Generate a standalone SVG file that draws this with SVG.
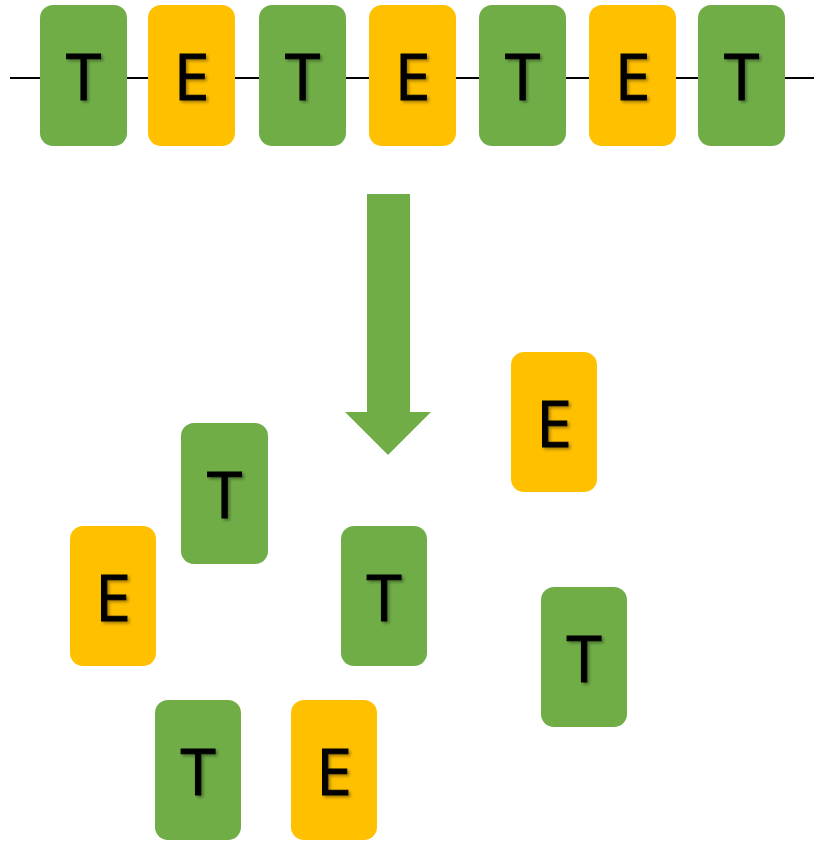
<svg xmlns="http://www.w3.org/2000/svg" width="814" height="841" viewBox="0 0 814 841">
<style>
.t{fill:#70AD47}
.e{fill:#FFC000}
text{font-family:"Open Sans","Noto Sans","Liberation Sans",sans-serif;font-size:64px;fill:#000;stroke:#000;stroke-width:1;text-anchor:middle;filter:url(#sh)}
</style>
<defs>
<filter id="sh" x="-20%" y="-20%" width="150%" height="150%">
<feDropShadow dx="2" dy="2" stdDeviation="1.8" flood-color="#000" flood-opacity="0.35"/>
</filter>
</defs>
<g id="connectors">
<line x1="10" y1="78" x2="814" y2="78" stroke="#000" stroke-width="2"/>
<polygon id="arrow" points="367,194 410,194 410,412 431,412 388,455 345,412 367,412" fill="#70AD47"/>
</g>
<g id="n1"><rect class="t" x="40" y="5" width="87" height="141" rx="13"/><text x="83.5" y="100">T</text></g>
<g id="n2"><rect class="e" x="148" y="5" width="87" height="141" rx="13"/><text x="191.5" y="100">E</text></g>
<g id="n3"><rect class="t" x="259" y="5" width="87" height="141" rx="13"/><text x="302.5" y="100">T</text></g>
<g id="n4"><rect class="e" x="369" y="5" width="87" height="141" rx="13"/><text x="412.5" y="100">E</text></g>
<g id="n5"><rect class="t" x="479" y="5" width="87" height="141" rx="13"/><text x="522.5" y="100">T</text></g>
<g id="n6"><rect class="e" x="589" y="5" width="87" height="141" rx="13"/><text x="632.5" y="100">E</text></g>
<g id="n7"><rect class="t" x="698" y="5" width="87" height="141" rx="13"/><text x="741.5" y="100">T</text></g>
<g id="b1"><rect class="e" x="511" y="352" width="86" height="140" rx="13"/><text x="554" y="447">E</text></g>
<g id="b2"><rect class="t" x="181" y="423" width="87" height="141" rx="13"/><text x="224.5" y="518">T</text></g>
<g id="b3"><rect class="e" x="70" y="526" width="86" height="140" rx="13"/><text x="113" y="621">E</text></g>
<g id="b4"><rect class="t" x="341" y="526" width="86" height="140" rx="13"/><text x="384" y="621">T</text></g>
<g id="b5"><rect class="t" x="541" y="587" width="86" height="140" rx="13"/><text x="584" y="682">T</text></g>
<g id="b6"><rect class="t" x="155" y="700" width="86" height="140" rx="13"/><text x="198" y="795">T</text></g>
<g id="b7"><rect class="e" x="291" y="700" width="86" height="140" rx="13"/><text x="334" y="795">E</text></g>
</svg>
